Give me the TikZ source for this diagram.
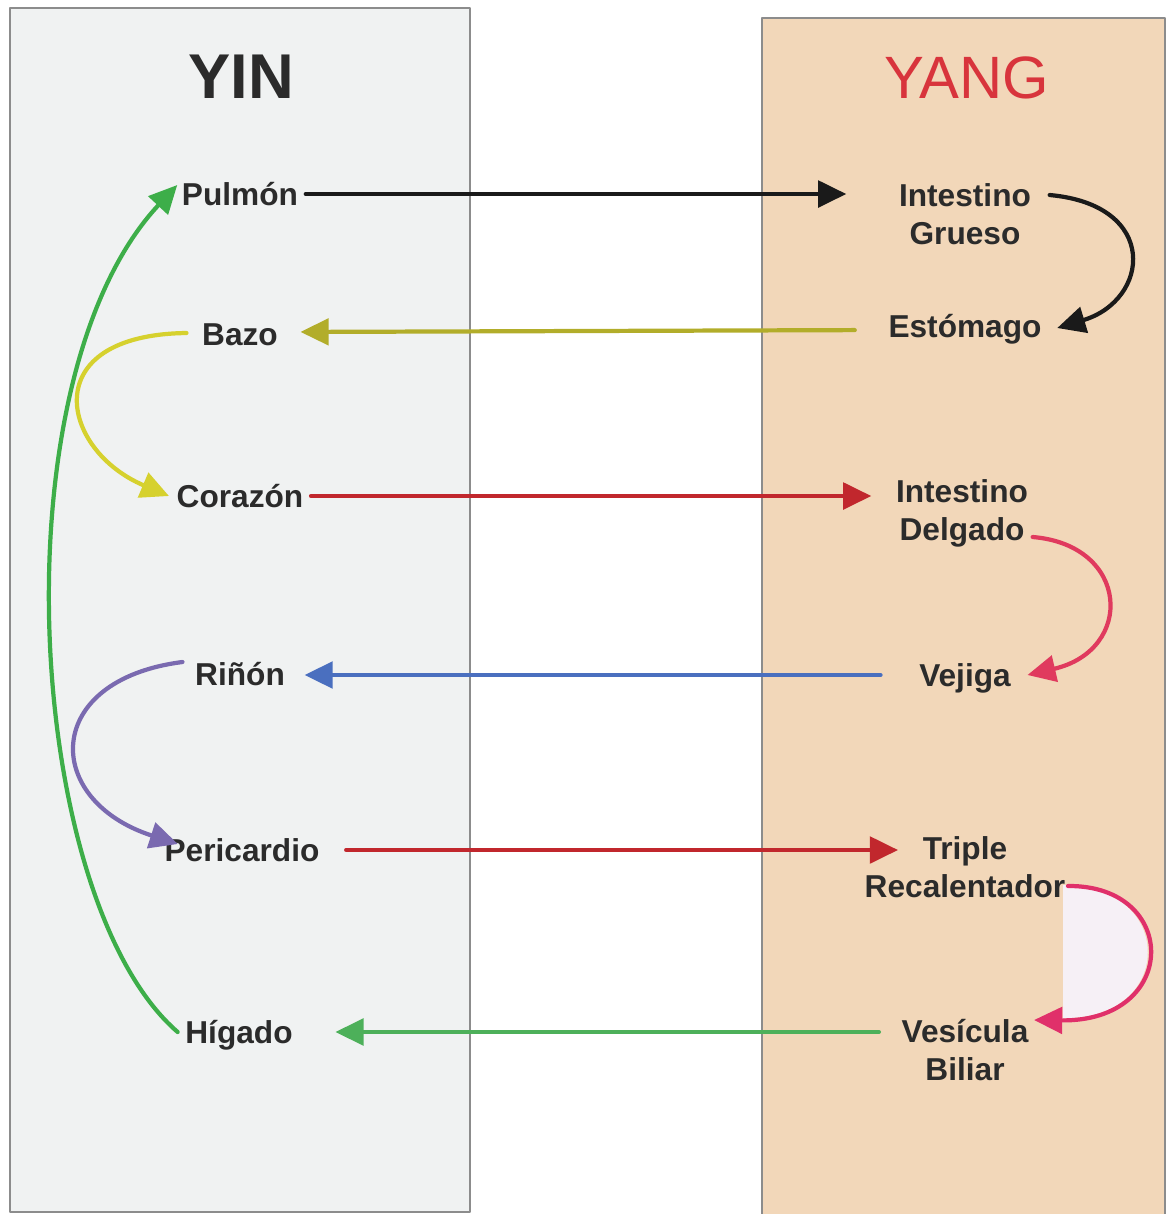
\documentclass[tikz,border=0pt]{standalone}
\usepackage{fontspec}
\setmainfont{Liberation Sans}
\usetikzlibrary{arrows.meta}
\definecolor{yinbg}{HTML}{F0F2F2}
\definecolor{yangbg}{HTML}{F2D7B9}
\definecolor{panelgray}{HTML}{8C8C8C}
\definecolor{txt}{HTML}{2B2B2B}
\definecolor{yangred}{HTML}{D8343C}
\definecolor{arrblack}{HTML}{1A1A1A}
\definecolor{olivearr}{HTML}{B2AD2A}
\definecolor{yellowarr}{HTML}{D6D12E}
\definecolor{redarr}{HTML}{C1272D}
\definecolor{crimsonarr}{HTML}{E03A5E}
\definecolor{bluearr}{HTML}{4A6FBF}
\definecolor{purplearr}{HTML}{7A6AB0}
\definecolor{greenarr}{HTML}{4DB05A}
\definecolor{greenlong}{HTML}{3DAE49}
\definecolor{pinkarr}{HTML}{E0306A}
\definecolor{lavfill}{HTML}{F6F0F6}
\begin{document}
\begin{tikzpicture}[x=0.01cm,y=-0.01cm,>={Triangle[length=8pt,width=7.5pt]},line cap=round,line join=round,
organ/.style={font=\fontsize{9}{10.8}\selectfont\bfseries,text=txt,inner sep=2pt,text height=6.6pt,text depth=0pt},
organtwo/.style={font=\fontsize{9}{10.8}\selectfont\bfseries,text=txt,inner sep=2pt,align=center},
link/.style={line width=1.2pt,->}]
\useasboundingbox (0,0) rectangle (1167,1214);
\draw[fill=yinbg,draw=panelgray,line width=0.6pt] (10,8) rectangle (470,1212);
\draw[fill=yangbg,draw=panelgray,line width=0.6pt] (762,18) rectangle (1165,1216);
\node[font=\fontsize{18}{20}\selectfont\bfseries,text=txt,anchor=base] (yin) at (241,98) {YIN};
\node[font=\fontsize{17}{20}\selectfont,text=yangred,anchor=base] (yang) at (967,98) {YANG};
\node[organ] (pulmon) at (240,194) {Pulmón};
\node[organ] (bazo) at (240,334) {Bazo};
\node[organ] (corazon) at (240,496) {Corazón};
\node[organ] (rinon) at (240,674) {Riñón};
\node[organ] (pericardio) at (242,850) {Pericardio};
\node[organ] (higado) at (239,1032) {Hígado};
\node[organtwo] (intg) at (965,214) {Intestino\\Grueso};
\node[organ] (estomago) at (965,326) {Estómago};
\node[organtwo] (intd) at (962,513) {Intestino\\Delgado};
\node[organ] (vejiga) at (965,675) {Vejiga};
\node[organtwo] (triple) at (965,867) {Triple\\Recalentador};
\node[organtwo] (vesicula) at (965,1050) {Vesícula\\Biliar};
\draw[link,arrblack,shorten >=0.45cm] (pulmon.east) -- (pulmon.east -| intg.west);
\draw[link,olivearr,shorten <=0.26cm,shorten >=0.15cm] ([shift={(0,4)}]estomago.west) -- ([shift={(0,6)}]estomago.west -| bazo.east);
\draw[link,redarr,shorten >=0.17cm] (corazon.east) -- (corazon.east -| intd.west);
\draw[link,bluearr,shorten <=0.31cm,shorten >=0.12cm] (vejiga.west) -- (vejiga.west -| rinon.east);
\draw[link,redarr,shorten <=0.19cm,shorten >=-0.41cm] (pericardio.east) -- (pericardio.east -| triple.west);
\draw[link,greenarr,shorten <=0.15cm,shorten >=0.35cm] (higado.east -| vesicula.west) -- (higado.east);
\draw[link,arrblack] ([shift={(11,-19)}]intg.east) .. controls (1160,205) and (1150,300) .. ([shift={(8,2)}]estomago.east);
\draw[link,yellowarr] ([shift={(-8,-1)}]bazo.west) .. controls (35,335) and (60,450) .. (corazon.west);
\draw[link,crimsonarr] ([shift={(-3,24)}]intd.east) .. controls (1130,545) and (1135,650) .. ([shift={(9,0)}]vejiga.east);
\draw[link,purplearr] ([shift={(-5,-12)}]rinon.west) .. controls (42,680) and (42,800) .. ([shift={(21,-6)}]pericardio.west);
\fill[lavfill] (1063,885) .. controls (1176,885) and (1176,1020) .. (1063,1018) -- cycle;
\draw[link,pinkarr] ([shift={(-5,19)}]triple.east) .. controls (1180,885) and (1180,1022) .. ([shift={(-2,-30)}]vesicula.east);
\draw[link,greenlong] (higado.west) .. controls (25,900) and (-5,380) .. ([shift={(3,-9)}]pulmon.west);
\end{tikzpicture}
\end{document}
